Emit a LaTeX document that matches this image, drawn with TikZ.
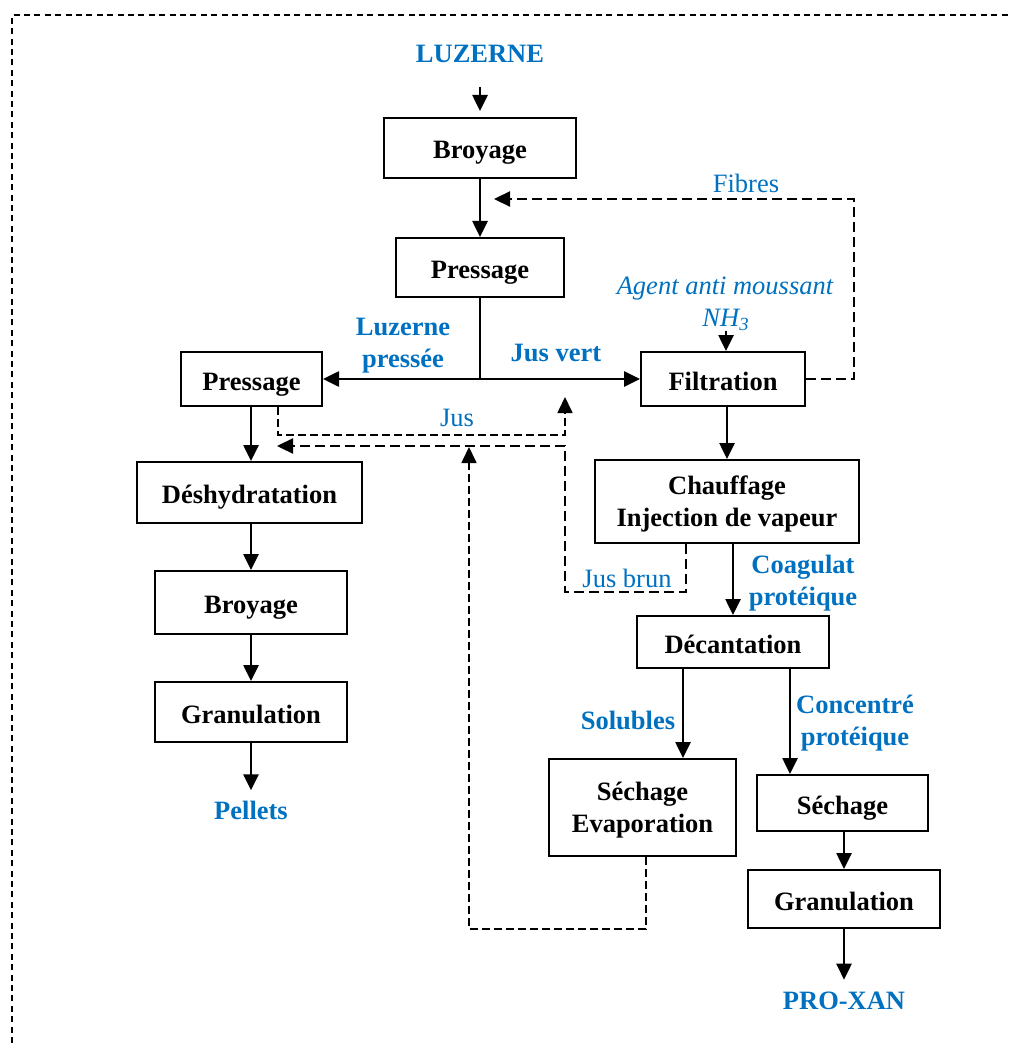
\documentclass[tikz,border=0pt]{standalone}
\usepackage{fontspec}
\setmainfont{Liberation Serif}
\usetikzlibrary{arrows.meta,calc}
\definecolor{flowblue}{RGB}{0,112,192}
\begin{document}
\begin{tikzpicture}[x=0.5pt,y=-0.5pt,
  every node/.style={font=\fontsize{13.25}{16}\selectfont},
  box/.style={draw, line width=1pt, inner sep=0pt, align=center,
    text depth=0pt, font=\fontsize{13.25}{16}\selectfont\bfseries},
  onebox/.style={box, text height=11pt},
  lab/.style={text=flowblue, inner sep=0pt, align=center,
    font=\fontsize{13.25}{16}\selectfont\bfseries},
  note/.style={text=flowblue, inner sep=0pt, align=center,
    font=\fontsize{13.25}{16}\selectfont},
  tip/.style={-{Triangle[length=8pt,width=7.5pt]}},
  flow/.style={line width=1.3pt},
  arr/.style={flow, tip},
  thinloop/.style={line width=0.85pt, dash pattern=on 4pt off 2pt, tip},
  thickloop/.style={line width=1.15pt, dash pattern=on 5pt off 2.5pt},
  frame/.style={line width=0.75pt, dash pattern=on 3pt off 2.2pt}]

\useasboundingbox (0,0) rectangle (1011,1043);

% outer dashed frame
\draw[frame] (12,1043) -- (12,15) -- (1011,15);

% main line
\node[lab] (luz) at (480,54) {LUZERNE};
\node[onebox, minimum width=96pt, minimum height=30pt] (broy1) at (480,148) {Broyage};
\node[onebox, minimum width=84pt, minimum height=29.5pt] (press1) at (480,267.5) {Pressage};
\node[onebox, minimum width=70.5pt, minimum height=27pt] (press2) at (251.5,379) {Pressage};
\node[onebox, minimum width=82pt, minimum height=27pt] (filt) at (723,379) {Filtration};
\node[box, minimum width=132pt, minimum height=41.5pt] (chauf) at (727,501.5) {Chauffage\\Injection de vapeur};
\node[onebox, minimum width=96pt, minimum height=26pt] (decant) at (733,642) {Décantation};
\node[box, minimum width=93.5pt, minimum height=48.5pt] (sechevap) at (642.5,807.5) {Séchage\\Evaporation};
\node[onebox, minimum width=85.5pt, minimum height=28pt] (sech) at (842.5,803) {Séchage};
\node[onebox, minimum width=96pt, minimum height=29pt] (granR) at (844,899) {Granulation};
\node[lab] (proxan) at (844,1001) {PRO-XAN};

% left column
\node[onebox, minimum width=112.5pt, minimum height=30.5pt] (deshy) at (249.5,492.5) {Déshydratation};
\node[onebox, minimum width=96pt, minimum height=31.5pt] (broy2) at (251,602.5) {Broyage};
\node[onebox, minimum width=96pt, minimum height=30pt] (granL) at (251,712) {Granulation};
\node[lab] (pellets) at (251,810) {Pellets};

% labels
\node[lab] (luzp) at (403,346) {Luzerne\\pressée};
\node[lab] (jusvert) at (556,353) {Jus vert};
\node[note] (jus) at (457,418) {Jus};
\node[note] (fibres) at (746,183) {Fibres};
\node[note, font=\fontsize{13.25}{16}\selectfont\itshape] (agent) at (725,289) {Agent anti moussant};
\node[note, font=\fontsize{13.25}{16}\selectfont\itshape] (nh3) at (726,320) {NH\textsubscript{3}};
\node[note] (jusbrun) at (627,578) {Jus brun};
\node[lab] (coag) at (803,583) {Coagulat\\protéique};
\node[lab] (solub) at (628,720) {Solubles};
\node[lab] (conc) at (855,723) {Concentré\\protéique};

% loose ends of the recycling loops
\coordinate (split) at (480,379);
\coordinate (fibtip) at (494,199);
\coordinate (jusup) at (565,397);
\coordinate (jusin) at (277,446);
\coordinate (evapup) at (469,447);

% solid connectors
\draw[arr] ([yshift=-12pt]luz.south) -- ([yshift=3pt]broy1.north);
\draw[arr] (broy1) -- (press1);
\draw[flow] (press1.south) -- (split);
\draw[arr] (split) -- (press2.east);
\draw[arr] (split) -- (filt.west);
\draw[arr] (nh3.south) -- (nh3.south |- filt.north);
\draw[arr] (chauf.north |- filt.south) -- (chauf.north);
\draw[arr] (decant.north |- chauf.south) -- (decant.north);
\draw[arr] ([xshift=-25pt]decant.south) -- ([xshift=-25pt]decant.south |- sechevap.north);
\draw[arr] ([xshift=28.5pt]decant.south) -- ([xshift=28.5pt]decant.south |- sech.north);
\draw[arr] (granR.north |- sech.south) -- (granR.north);
\draw[arr] (granR.south) -- ([yshift=6pt]proxan.north);
\draw[arr] (broy2.north |- press2.south) -- (broy2.north |- deshy.north);
\draw[arr] (broy2.north |- deshy.south) -- (broy2.north);
\draw[arr] (broy2.south) -- (granL.north);
\draw[arr] (granL.south) -- ([yshift=5pt]pellets.north);

% dashed recycling loops
\draw[thickloop, tip] (filt.east) -- ++(48,0) |- (fibtip);
\draw[thinloop] ([xshift=13.25pt]press2.south) -- ++(0,28) -| (jusup);
\draw[thickloop, tip] ([xshift=-20.5pt]chauf.south) -- ++(0,48) -- ++(-121,0) -- ++(0,-146) -- (jusin);
\draw[thinloop] ([xshift=1.75pt]sechevap.south) -- ++(0,72) -| (evapup);

\end{tikzpicture}
\end{document}
